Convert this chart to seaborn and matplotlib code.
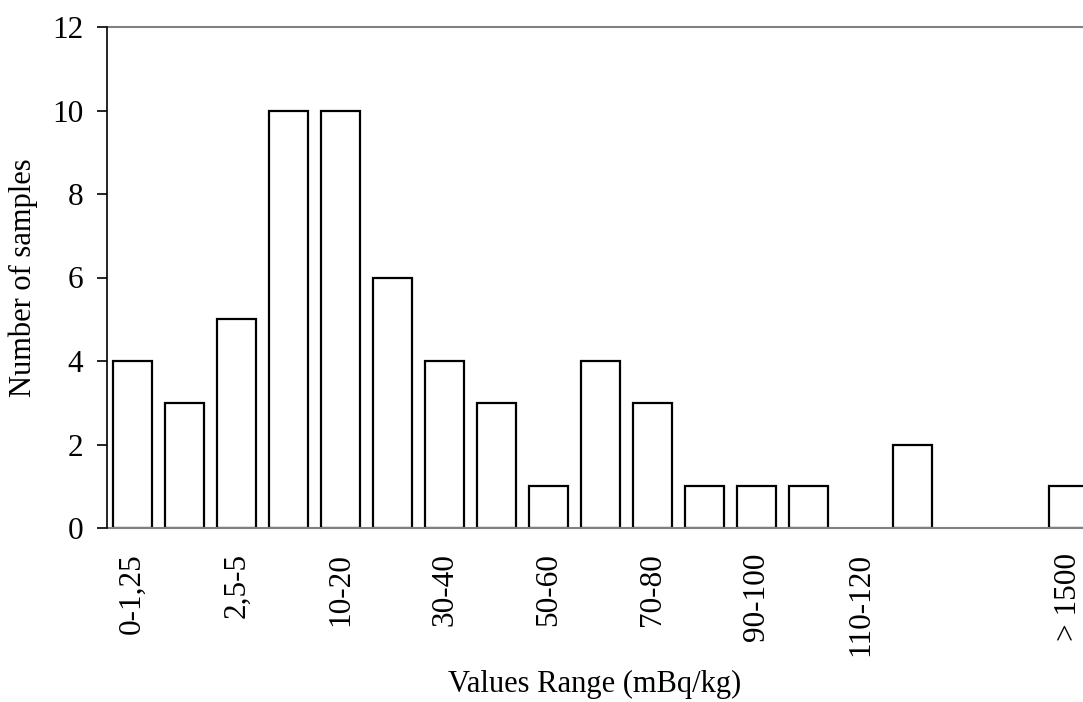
import matplotlib
matplotlib.use("Agg")
import matplotlib.pyplot as plt
import seaborn as sns
import pandas as pd

categories = ["0-1,25", "1,25-2,5", "2,5-5", "5-10", "10-20", "20-30", "30-40",
              "40-50", "50-60", "60-70", "70-80", "80-90", "90-100", "100-110",
              "110-120", "120-500", "500-1000", "1000-1500", "> 1500"]
counts = [4, 3, 5, 10, 10, 6, 4, 3, 1, 4, 3, 1, 1, 1, 0, 2, 0, 0, 1]
tick_labels = ["0-1,25", "", "2,5-5", "", "10-20", "", "30-40", "", "50-60", "",
               "70-80", "", "90-100", "", "110-120", "", "", "", "> 1500"]

sns.set_theme(style="white")
plt.rcParams['font.family'] = ['Liberation Serif', 'DejaVu Serif']

df = pd.DataFrame({"cat": categories, "n": counts})

fig = plt.figure(figsize=(10.83, 7.02), dpi=100)
ax = fig.add_axes([107/1083, 1 - 528/702, 1 - 107/1083, (528-27)/702])

sns.barplot(data=df, x="cat", y="n", order=categories, color="white",
            edgecolor="black", linewidth=1.6, width=0.75, saturation=1, ax=ax)

for p in ax.patches:
    if p.get_height() == 0:
        p.set_linewidth(0)

ax.set_ylim(0, 12)
ax.set_yticks(range(0, 13, 2))
ax.set_xlim(-0.49, 18.28)
ax.set_xticks(range(len(categories)))
ax.set_xticklabels(tick_labels, rotation=90, va="top", ha="center")

for s in ["top", "bottom"]:
    ax.spines[s].set_visible(True)
    ax.spines[s].set_color("#808080")
    ax.spines[s].set_linewidth(1.5)
ax.spines["right"].set_visible(False)
ax.spines["left"].set_color("black")
ax.spines["left"].set_linewidth(1.2)
ax.spines["left"].set_zorder(5)

ax.tick_params(axis="y", which="both", direction="out", length=7, width=1.2,
               color="black", left=True, labelsize=22.5, pad=10, labelcolor="black")
ax.tick_params(axis="x", which="both", length=0, labelsize=22.5, pad=18,
               labelcolor="black")

ax.set_xlabel("Values Range (mBq/kg)", fontsize=22, color="black", labelpad=10)
ax.set_ylabel("Number of samples", fontsize=22, color="black", labelpad=10)

fig.savefig("out.png", dpi=100)
